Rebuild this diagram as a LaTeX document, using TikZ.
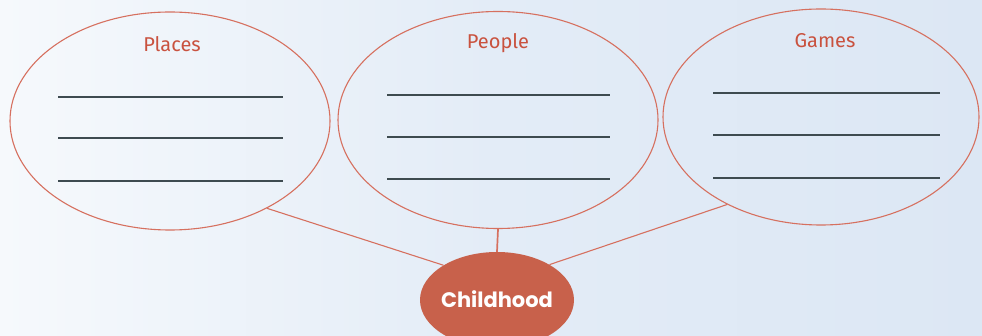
\documentclass[tikz,border=0pt]{standalone}
\usepackage{fontspec}
\setmainfont{Fira Sans}
\newfontfamily\childfont{Poppins}
\definecolor{bgL}{HTML}{F6F9FC}
\definecolor{bgM}{HTML}{E3ECF7}
\definecolor{bgR}{HTML}{DCE7F4}
\definecolor{ringc}{HTML}{D6705F}
\definecolor{labc}{HTML}{C9523F}
\definecolor{childc}{HTML}{C8614B}
\definecolor{writec}{HTML}{3E4B50}
\usetikzlibrary{shapes.geometric}
\tikzset{
  bubble/.style={ellipse, draw=ringc, line width=1.1pt, inner sep=0pt},
  lab/.style={text=labc, font=\fontsize{20}{22}\selectfont, inner sep=0pt},
  wline/.style={draw=writec, line width=1.3pt},
  conn/.style={draw=ringc, line width=1.1pt},
  centre/.style={ellipse, fill=childc, draw=none, inner sep=0pt},
  centrelab/.style={text=white, font=\childfont\bfseries\fontsize{21}{23}\selectfont, inner sep=0pt}
}
\begin{document}
\begin{tikzpicture}[x=1pt,y=-1pt]
\shade[left color=bgL, right color=bgR, middle color=bgM] (0,0) rectangle (982,336);
\useasboundingbox (0,0) rectangle (982,336);
\begin{scope}
\clip (0,0) rectangle (982,336);
% bubbles
\node[bubble, minimum width=320pt, minimum height=218pt] (places) at (170,121) {};
\node[bubble, minimum width=320pt, minimum height=217pt] (people) at (498,120) {};
\node[bubble, minimum width=316pt, minimum height=216pt] (games) at (821,117) {};
\node[centre, minimum width=154pt, minimum height=96pt] (child) at (497,300) {};
\node[centrelab] (childlab) at (497,299) {Childhood};
% labels
\node[lab] (lp) at (172,44) {Places};
\node[lab] (lpe) at (498,43) {People};
\node[lab] (lg) at (825,41) {Games};
% writing lines
\coordinate (p1a) at (58,97);  \coordinate (p1b) at (283,97);
\coordinate (p2a) at (58,138); \coordinate (p2b) at (283,138);
\coordinate (p3a) at (58,181); \coordinate (p3b) at (283,181);
\draw[wline] (p1a) -- (p1b); \draw[wline] (p2a) -- (p2b); \draw[wline] (p3a) -- (p3b);
\coordinate (q1a) at (387,95);  \coordinate (q1b) at (610,95);
\coordinate (q2a) at (387,137); \coordinate (q2b) at (610,137);
\coordinate (q3a) at (387,179); \coordinate (q3b) at (610,179);
\draw[wline] (q1a) -- (q1b); \draw[wline] (q2a) -- (q2b); \draw[wline] (q3a) -- (q3b);
\coordinate (g1a) at (713,93);  \coordinate (g1b) at (940,93);
\coordinate (g2a) at (713,135); \coordinate (g2b) at (940,135);
\coordinate (g3a) at (713,178); \coordinate (g3b) at (940,178);
\draw[wline] (g1a) -- (g1b); \draw[wline] (g2a) -- (g2b); \draw[wline] (g3a) -- (g3b);
% connectors
\draw[conn] (places.-42.5) -- (child.147);
\draw[conn, line width=1.7pt] (people.south) -- (child.north);
\draw[conn] (games.223.8) -- (child.34);
\end{scope}
\end{tikzpicture}
\end{document}
